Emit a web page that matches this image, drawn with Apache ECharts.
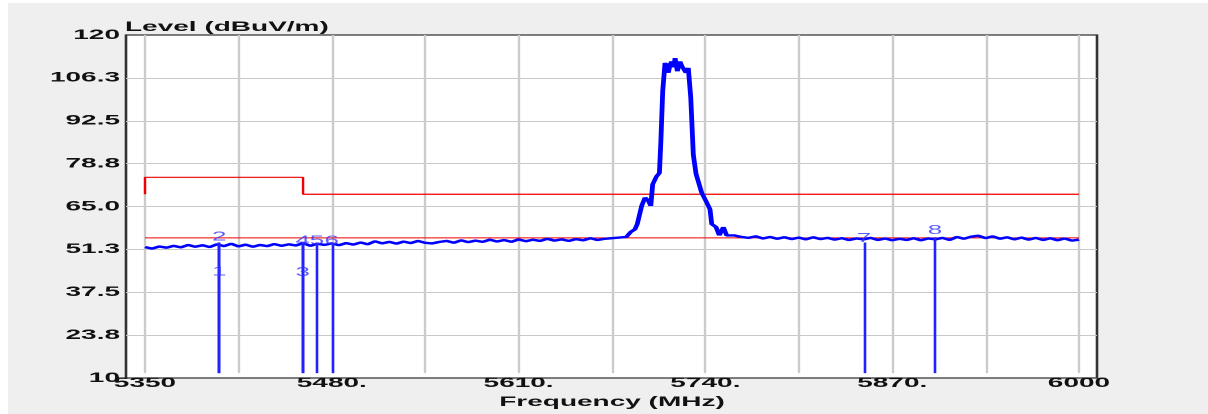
<!DOCTYPE html>
<html><head><meta charset="utf-8">
<script src="https://cdn.jsdelivr.net/npm/echarts@6/dist/echarts.min.js"></script>
<style>
html,body{margin:0;padding:0;background:#fff;width:1208px;height:414px;overflow:hidden}
#wrap{position:absolute;left:0;top:0;width:604px;height:414px;transform:scaleX(2);transform-origin:0 0}
#bg{position:absolute;left:3.5px;top:3px;right:0;bottom:0;background:#efefef}
#chart{position:absolute;left:0;top:0;width:604px;height:414px}
</style></head><body>
<div id="wrap"><div id="bg"></div><div id="chart"></div></div>
<script>
// ---- data ----
const yTickTexts = ['10','23.8','37.5','51.3','65.0','78.8','92.5','106.3','120'];
const xLabelValues = [5350,5480,5610,5740,5870,6000];
const xLabelTexts = ['5350','5480.','5610.','5740.','5870.','6000'];

const traceFreq = [
5350,5355,5360,5365,5370,5375,5380,5385,5390,5395,5400,5405,5410,5415,5420,5425,5430,5435,5440,5445,
5450,5455,5460,5465,5470,5475,5480,5485,5490,5495,5500,5505,5510,5515,5520,5525,5530,5535,5540,5545,
5550,5555,5560,5565,5570,5575,5580,5585,5590,5595,5600,5605,5610,5615,5620,5625,5630,5635,5640,5645,
5650,5655,5660,5665,5670,5675,5680,5685,5688,5691,5692.6,5694,5695.7,5698,5700.3,5702,5703.3,5706,5708,5709,
5710.3,5711.9,5713,5714.2,5715.5,5716.6,5718,5718.9,5720.5,5722.3,5723.5,5724.6,5726.5,5728.1,5729.8,5731.6,5733.5,5735.8,5737.4,5739.3,
5740.9,5743.2,5744.4,5747.4,5749.7,5752.5,5754.8,5757,5760,5765,5770,5775,5780,5785,5790,5795,5800,5805,5810,5815,
5820,5825,5830,5835,5840,5845,5850,5855,5860,5865,5870,5875,5880,5885,5890,5895,5900,5905,5910,5915,
5920,5925,5930,5935,5940,5945,5950,5955,5960,5965,5970,5975,5980,5985,5990,5995,6000];
const traceLevel = [
51.0,50.5,51.2,50.8,51.4,50.9,51.7,51.1,51.6,51.0,51.9,51.3,52.1,51.2,51.8,51.1,51.7,51.3,52.0,51.4,
51.9,51.5,52.3,51.4,52.1,51.7,52.2,51.6,52.3,51.8,52.5,51.9,52.9,52.2,52.7,52.1,52.8,52.3,53.0,52.4,
52.2,52.7,53.0,52.4,53.2,52.6,53.1,52.7,53.4,52.8,53.3,52.7,53.5,52.9,53.4,53.0,53.7,53.1,53.5,53.0,
53.6,53.2,53.9,53.3,53.7,53.9,54.1,54.3,55.9,56.8,58.5,59.0,64.5,67.1,66.1,64.4,71.4,74.0,75.1,85.3,
101.8,110.9,110.0,107.7,110.5,111.4,109.5,112.5,108.2,111.4,110.0,110.4,107.7,109.3,99.7,81.0,74.8,74.4,68.7,68.4,
65.5,63.3,58.5,57.5,54.8,57.5,54.8,54.5,54.8,54.3,54.0,54.5,53.8,54.3,53.7,54.2,53.6,54.1,53.5,54.2,
53.6,54.0,53.4,53.9,53.3,53.8,53.5,54.0,53.3,53.8,53.2,53.7,53.3,53.9,53.2,53.8,53.5,54.0,53.3,54.3,
53.7,54.4,54.7,53.9,54.5,53.7,54.2,53.5,54.1,53.4,54.0,53.3,53.9,53.2,53.8,53.1,53.4];

const upperLimitFreq = [5350,5350,5460,5460,6000];
const upperLimitLevel = [68.2,73.7,73.7,68.2,68.2];
const lowerLimitFreq = [5350,6000];
const lowerLimitLevel = [54.0,54.0];

const markerNames = ['1','2','3','4','5','6','7','8'];
const markerFreq  = [5401.6,5401.6,5459.8,5459.8,5469.6,5480.0,5850.4,5899.8];
const markerLevel = [40.6,52.0,40.4,50.7,50.7,50.7,51.5,54.2];

// ---- chart ----
const FONT = "'Liberation Sans', Arial, sans-serif";
const zip = (a,b) => a.map((v,i)=>[v,b[i]]);
const chart = echarts.init(document.getElementById('chart'), null, {devicePixelRatio: 2});
chart.setOption({
  animation: false,
  backgroundColor: 'transparent',
  graphic: [{
    type: 'text', left: 62.5, top: 20,
    style: {text: 'Level (dBuV/m)', font: 'bold 14px ' + FONT, fill: '#111'}
  }],
  grid: [
    {left: 63, right: 55.5, top: 35, bottom: 36, show: true, backgroundColor: '#fff',
     borderColor: '#333', borderWidth: 1.3, z: 0},
    {left: 72.5, right: 64.5, top: 35, bottom: 36, z: 1}
  ],
  xAxis: [
    {gridIndex: 0, type: 'value', min: 0, max: 1, show: false},
    {gridIndex: 1, type: 'value', min: 5350, max: 6000, interval: 65, z: 2,
     axisLine: {show: false}, axisTick: {show: false},
     splitLine: {show: true, lineStyle: {color: '#cbcbcb', width: 1.2}},
     axisLabel: {margin: 3, fontSize: 14, fontWeight: 'bold', fontFamily: FONT, color: '#111',
       formatter: v => { const i = xLabelValues.indexOf(Math.round(v)); return i >= 0 ? xLabelTexts[i] : ''; }},
     name: 'Frequency (MHz)', nameLocation: 'middle', nameGap: 11,
     nameTextStyle: {fontSize: 14, fontWeight: 'bold', fontFamily: FONT, color: '#111'}}
  ],
  yAxis: [
    {gridIndex: 0, type: 'value', min: 10, max: 120, interval: 13.75, z: 1,
     axisLine: {show: false}, axisTick: {show: false},
     splitLine: {show: true, showMinLine: false, showMaxLine: false, lineStyle: {color: '#c8c8c8', width: 1}},
     axisLabel: {margin: 3, fontSize: 14, fontWeight: 'bold', fontFamily: FONT, color: '#111',
       formatter: v => yTickTexts[Math.round((v - 10) / 13.75)]}},
    {gridIndex: 1, type: 'value', min: 10, max: 120, show: false}
  ],
  series: [
    {type: 'line', xAxisIndex: 1, yAxisIndex: 1, data: zip(upperLimitFreq, upperLimitLevel),
     showSymbol: false, lineStyle: {color: '#f00000', width: 1.2}, z: 3},
    {type: 'line', xAxisIndex: 1, yAxisIndex: 1, data: zip(lowerLimitFreq, lowerLimitLevel),
     showSymbol: false, lineStyle: {color: '#f00000', width: 1}, z: 3},
    {type: 'line', xAxisIndex: 1, yAxisIndex: 1, data: zip(traceFreq, traceLevel),
     showSymbol: false, lineStyle: {color: '#0000ff', width: 2.4}, z: 4,
     markLine: {silent: true, symbol: 'none', animation: false, label: {show: false},
       lineStyle: {color: '#2222ff', width: 1.3, type: 'solid'},
       data: markerFreq.map((f, i) => [{coord: [f, 10]}, {coord: [f, Math.max(markerLevel[i], 52.5)]}])}},
    {type: 'scatter', xAxisIndex: 1, yAxisIndex: 1, symbol: 'circle', symbolSize: 1,
     itemStyle: {color: 'rgba(0,0,0,0)'}, z: 5,
     data: markerFreq.map((f, i) => [f, markerLevel[i], markerNames[i]]),
     labelLayout: {hideOverlap: false},
     label: {show: true, position: 'top', distance: 0, fontSize: 13, fontFamily: FONT,
       color: '#3535ff', formatter: p => p.value[2]}}
  ]
});
</script></body></html>
